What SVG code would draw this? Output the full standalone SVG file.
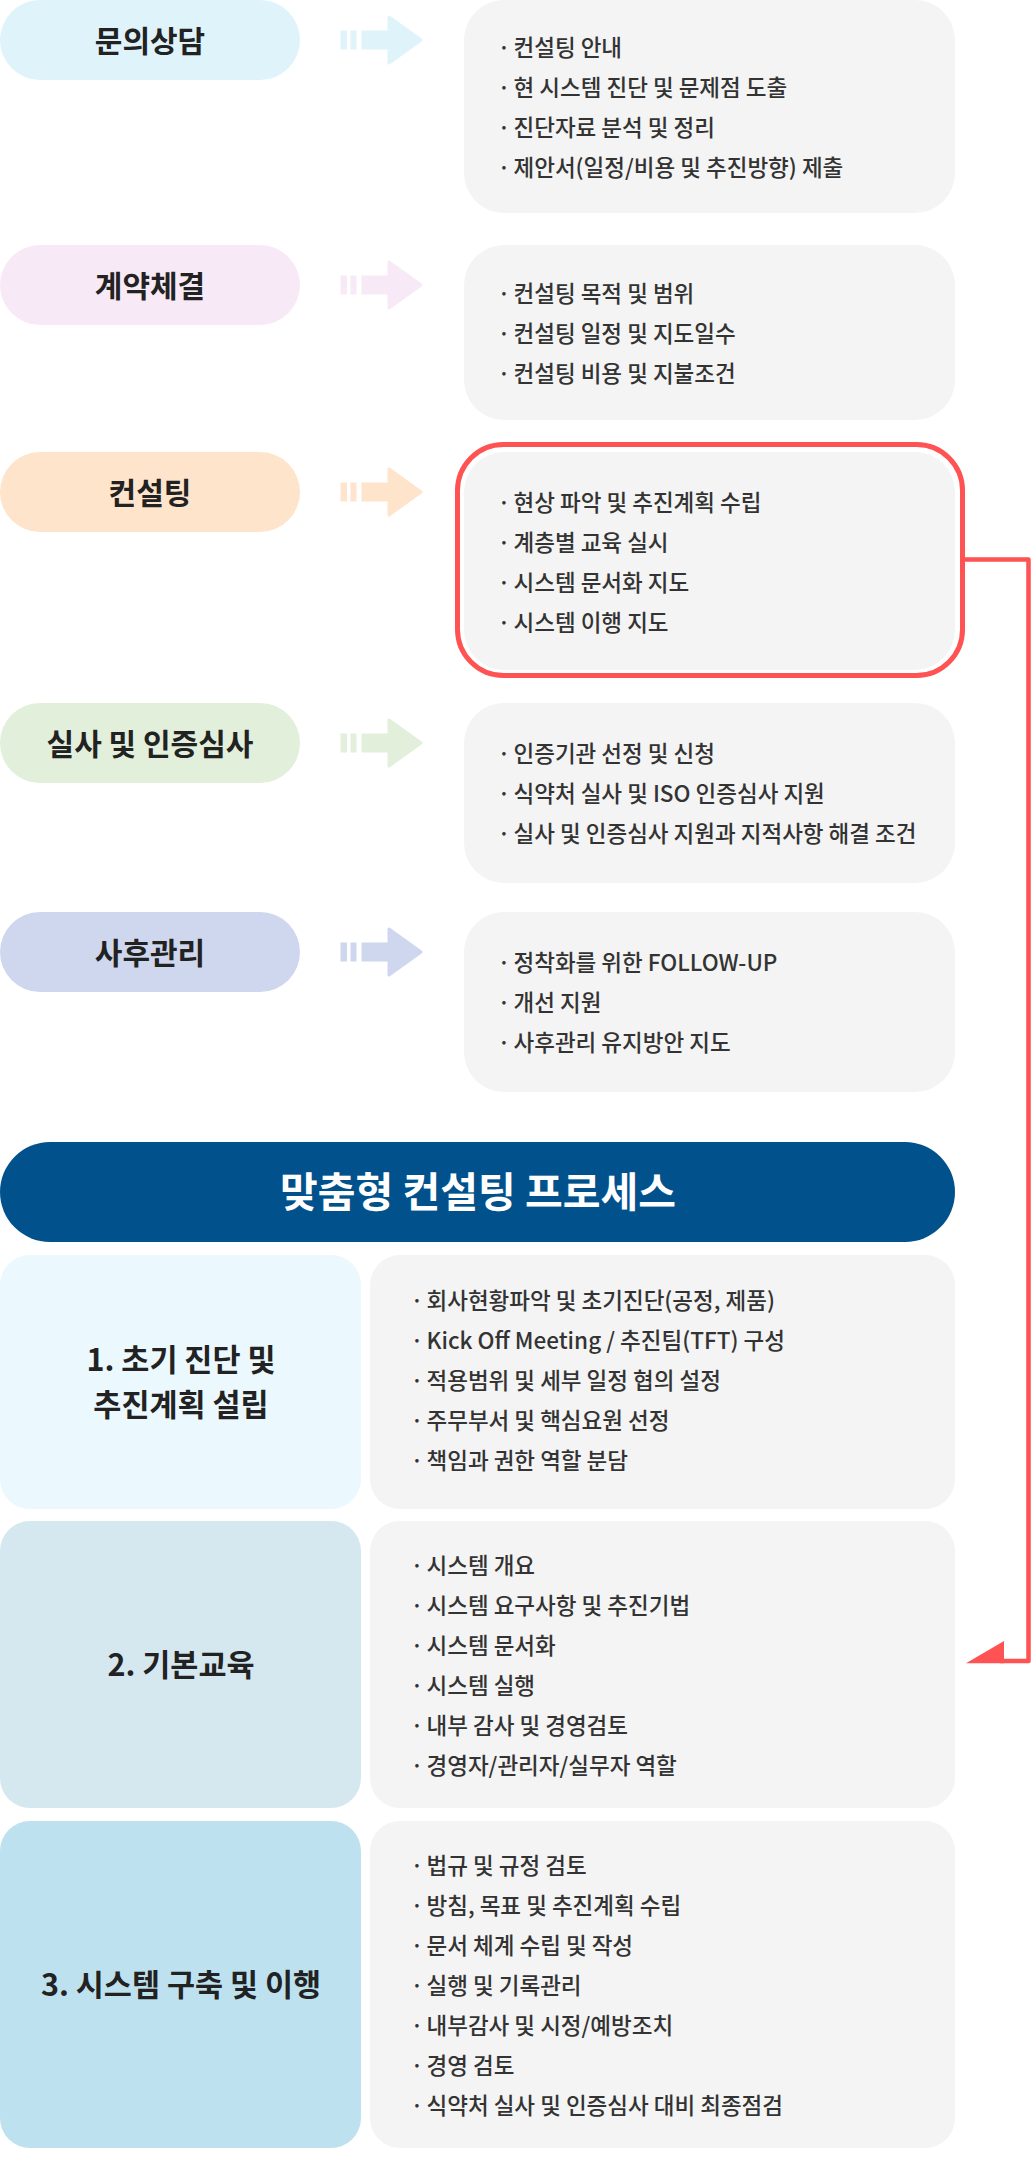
<svg xmlns="http://www.w3.org/2000/svg" width="1031" height="2162" viewBox="0 0 1031 2162">
<style>
.lbl{font-family:"Noto Sans CJK KR","Noto Sans",sans-serif;font-weight:700;font-size:30px;fill:#222;text-anchor:middle}
.it{font-family:"Noto Sans CJK KR","Noto Sans",sans-serif;font-weight:500;font-size:22.5px;fill:#333}
.b{text-anchor:middle}
.box{fill:#F4F4F4}
.ttl{font-family:"Noto Sans CJK KR","Noto Sans",sans-serif;font-weight:700;font-size:41px;fill:#fff;text-anchor:middle}
.rl{font-family:"Noto Sans CJK KR","Noto Sans",sans-serif;font-weight:700;font-size:30.5px;fill:#222;text-anchor:middle}
</style>
<defs>
<g id="arr">
<rect x="341" y="-9" width="5.5" height="18"/>
<rect x="351" y="-9" width="5" height="18"/>
<rect x="362" y="-9" width="28" height="18"/>
<polygon points="389,-23 421,0 389,23" stroke-width="3" stroke-linejoin="round"/>
</g>
</defs>

<g id="step1">
<rect x="0" y="0" width="300" height="80" rx="40" fill="#DFF3FA"/>
<text class="lbl" x="150" y="51.5">문의상담</text>
<use href="#arr" transform="translate(0,40)" fill="#DFF3FA" stroke="#DFF3FA"/>
<rect class="box" x="464" y="0" width="491" height="213" rx="40"/>
<text class="it" y="55.5"><tspan class="b" x="504">·</tspan><tspan x="513.5">컨설팅 안내</tspan></text>
<text class="it" y="95.5"><tspan class="b" x="504">·</tspan><tspan x="513.5">현 시스템 진단 및 문제점 도출</tspan></text>
<text class="it" y="135.5"><tspan class="b" x="504">·</tspan><tspan x="513.5">진단자료 분석 및 정리</tspan></text>
<text class="it" y="175.5"><tspan class="b" x="504">·</tspan><tspan x="513.5">제안서(일정/비용 및 추진방향) 제출</tspan></text>
</g>

<g id="step2">
<rect x="0" y="245" width="300" height="80" rx="40" fill="#F8E9F6"/>
<text class="lbl" x="150" y="296.5">계약체결</text>
<use href="#arr" transform="translate(0,285)" fill="#F8E9F6" stroke="#F8E9F6"/>
<rect class="box" x="464" y="245" width="491" height="175" rx="40"/>
<text class="it" y="301.5"><tspan class="b" x="504">·</tspan><tspan x="513.5">컨설팅 목적 및 범위</tspan></text>
<text class="it" y="341.5"><tspan class="b" x="504">·</tspan><tspan x="513.5">컨설팅 일정 및 지도일수</tspan></text>
<text class="it" y="381.5"><tspan class="b" x="504">·</tspan><tspan x="513.5">컨설팅 비용 및 지불조건</tspan></text>
</g>

<g id="step3">
<rect x="0" y="452" width="300" height="80" rx="40" fill="#FFE4CC"/>
<text class="lbl" x="150" y="503.5">컨설팅</text>
<use href="#arr" transform="translate(0,492)" fill="#FFE4CC" stroke="#FFE4CC"/>
<rect x="457.5" y="444.5" width="505" height="231" rx="46" fill="none" stroke="#FF5252" stroke-width="5"/>
<rect class="box" x="464" y="452" width="491" height="218" rx="40"/>
<text class="it" y="510.5"><tspan class="b" x="504">·</tspan><tspan x="513.5">현상 파악 및 추진계획 수립</tspan></text>
<text class="it" y="550.5"><tspan class="b" x="504">·</tspan><tspan x="513.5">계층별 교육 실시</tspan></text>
<text class="it" y="590.5"><tspan class="b" x="504">·</tspan><tspan x="513.5">시스템 문서화 지도</tspan></text>
<text class="it" y="630.5"><tspan class="b" x="504">·</tspan><tspan x="513.5">시스템 이행 지도</tspan></text>
</g>

<g id="step4">
<rect x="0" y="703" width="300" height="80" rx="40" fill="#E1EFDB"/>
<text class="lbl" x="150" y="754.5">실사 및 인증심사</text>
<use href="#arr" transform="translate(0,743)" fill="#E1EFDB" stroke="#E1EFDB"/>
<rect class="box" x="464" y="703" width="491" height="180" rx="40"/>
<text class="it" y="761.5"><tspan class="b" x="504">·</tspan><tspan x="513.5">인증기관 선정 및 신청</tspan></text>
<text class="it" y="801.5"><tspan class="b" x="504">·</tspan><tspan x="513.5">식약처 실사 및 ISO 인증심사 지원</tspan></text>
<text class="it" y="841.5"><tspan class="b" x="504">·</tspan><tspan x="513.5">실사 및 인증심사 지원과 지적사항 해결 조건</tspan></text>
</g>

<g id="step5">
<rect x="0" y="912" width="300" height="80" rx="40" fill="#CED7EE"/>
<text class="lbl" x="150" y="963.5">사후관리</text>
<use href="#arr" transform="translate(0,952)" fill="#CED7EE" stroke="#CED7EE"/>
<rect class="box" x="464" y="912" width="491" height="180" rx="40"/>
<text class="it" y="970.5"><tspan class="b" x="504">·</tspan><tspan x="513.5">정착화를 위한 FOLLOW-UP</tspan></text>
<text class="it" y="1010.5"><tspan class="b" x="504">·</tspan><tspan x="513.5">개선 지원</tspan></text>
<text class="it" y="1050.5"><tspan class="b" x="504">·</tspan><tspan x="513.5">사후관리 유지방안 지도</tspan></text>
</g>

<g id="title">
<rect x="0" y="1142" width="955" height="100" rx="50" fill="#01528C"/>
<text class="ttl" x="478" y="1207">맞춤형 컨설팅 프로세스</text>
</g>

<g id="row1">
<rect x="0" y="1255" width="361" height="254" rx="30" fill="#EBF8FD"/>
<text class="rl" x="181" y="1371">1. 초기 진단 및</text>
<text class="rl" x="181" y="1416">추진계획 설립</text>
<rect class="box" x="370" y="1255" width="585" height="254" rx="30"/>
<text class="it" y="1308.5"><tspan class="b" x="417">·</tspan><tspan x="426.5">회사현황파악 및 초기진단(공정, 제품)</tspan></text>
<text class="it" y="1348.5"><tspan class="b" x="417">·</tspan><tspan x="426.5">Kick Off Meeting / 추진팀(TFT) 구성</tspan></text>
<text class="it" y="1388.5"><tspan class="b" x="417">·</tspan><tspan x="426.5">적용범위 및 세부 일정 협의 설정</tspan></text>
<text class="it" y="1428.5"><tspan class="b" x="417">·</tspan><tspan x="426.5">주무부서 및 핵심요원 선정</tspan></text>
<text class="it" y="1468.5"><tspan class="b" x="417">·</tspan><tspan x="426.5">책임과 권한 역할 분담</tspan></text>
</g>

<g id="row2">
<rect x="0" y="1521" width="361" height="287" rx="30" fill="#D5E8F0"/>
<text class="rl" x="181" y="1676">2. 기본교육</text>
<rect class="box" x="370" y="1521" width="585" height="287" rx="30"/>
<text class="it" y="1573.5"><tspan class="b" x="417">·</tspan><tspan x="426.5">시스템 개요</tspan></text>
<text class="it" y="1613.5"><tspan class="b" x="417">·</tspan><tspan x="426.5">시스템 요구사항 및 추진기법</tspan></text>
<text class="it" y="1653.5"><tspan class="b" x="417">·</tspan><tspan x="426.5">시스템 문서화</tspan></text>
<text class="it" y="1693.5"><tspan class="b" x="417">·</tspan><tspan x="426.5">시스템 실행</tspan></text>
<text class="it" y="1733.5"><tspan class="b" x="417">·</tspan><tspan x="426.5">내부 감사 및 경영검토</tspan></text>
<text class="it" y="1773.5"><tspan class="b" x="417">·</tspan><tspan x="426.5">경영자/관리자/실무자 역할</tspan></text>
</g>

<g id="row3">
<rect x="0" y="1821" width="361" height="327" rx="30" fill="#BEE1F0"/>
<text class="rl" x="181" y="1996">3. 시스템 구축 및 이행</text>
<rect class="box" x="370" y="1821" width="585" height="327" rx="30"/>
<text class="it" y="1873.5"><tspan class="b" x="417">·</tspan><tspan x="426.5">법규 및 규정 검토</tspan></text>
<text class="it" y="1913.5"><tspan class="b" x="417">·</tspan><tspan x="426.5">방침, 목표 및 추진계획 수립</tspan></text>
<text class="it" y="1953.5"><tspan class="b" x="417">·</tspan><tspan x="426.5">문서 체계 수립 및 작성</tspan></text>
<text class="it" y="1993.5"><tspan class="b" x="417">·</tspan><tspan x="426.5">실행 및 기록관리</tspan></text>
<text class="it" y="2033.5"><tspan class="b" x="417">·</tspan><tspan x="426.5">내부감사 및 시정/예방조치</tspan></text>
<text class="it" y="2073.5"><tspan class="b" x="417">·</tspan><tspan x="426.5">경영 검토</tspan></text>
<text class="it" y="2113.5"><tspan class="b" x="417">·</tspan><tspan x="426.5">식약처 실사 및 인증심사 대비 최종점검</tspan></text>
</g>

<g id="connectors">
<path d="M963,559.5 H1028.5 V1661 H1000" fill="none" stroke="#FF5252" stroke-width="4.5" stroke-linejoin="round"/>
<polygon points="966,1663.25 1004,1641 1004,1663.25" fill="#FF5252"/>
</g>
</svg>
